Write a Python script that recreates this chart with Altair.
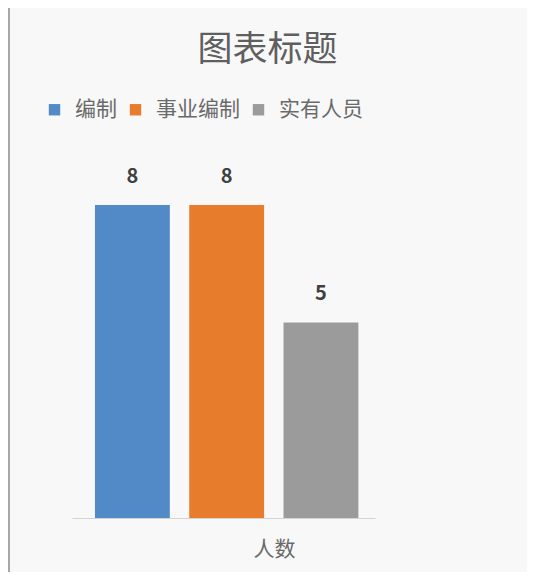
import altair as alt
import pandas as pd

series = ["编制", "事业编制", "实有人员"]
values = [8, 8, 5]
colors = ["#5289c7", "#e77c2c", "#9b9b9b"]
category_label = "人数"
title_text = "图表标题"

df = pd.DataFrame({"series": series, "value": values})
FONT = "Noto Sans CJK SC"

base = alt.Chart(df).encode(
    x=alt.X(
        "series:N",
        sort=series,
        scale=alt.Scale(paddingInner=0.206, paddingOuter=0.21, align=0.58),
        axis=alt.Axis(
            labels=False, ticks=False, domainColor="#d4d4d4", domainWidth=1.2,
            title=category_label, titleFont=FONT, titleFontSize=21,
            titleFontWeight="normal", titleColor="#6a6a6a", titlePadding=20,
            titleX=202,
        ),
    ),
    y=alt.Y("value:Q", scale=alt.Scale(domain=[0, 9], nice=False), axis=None),
)

bars = base.mark_bar().encode(
    color=alt.Color(
        "series:N",
        sort=series,
        scale=alt.Scale(domain=series, range=colors),
        legend=alt.Legend(
            orient="none", legendX=-28, legendY=-67, direction="horizontal",
            title=None, symbolType="square", symbolSize=130, symbolStrokeWidth=0,
            labelFont=FONT, labelFontSize=21, labelColor="#6a6a6a",
            labelOffset=10, columnPadding=8,
        ),
    )
)

labels = base.mark_text(
    baseline="bottom", dy=-18, font=FONT, fontSize=20, fontWeight="bold", color="#404040"
).encode(text="value:Q")

border = alt.Chart(df).mark_rule(color="#a8a8a8", strokeWidth=2).encode(
    x=alt.value(-63), y=alt.value(-160), y2=alt.value(408)
)

chart = alt.layer(border, bars, labels).properties(
    width=303,
    height=352,
    title=alt.Title(
        title_text, font=FONT, fontSize=35, fontWeight="normal", color="#5f5f5f",
        anchor="middle", dx=44, baseline="bottom", offset=-98,
    ),
    autosize=alt.AutoSizeParams(type="none"),
    padding={"left": 64, "top": 158, "right": 152, "bottom": 54},
    background="#f8f8f8",
).configure_view(stroke=None)

chart.save("out.html", embed_options={"renderer": "svg", "actions": False})
